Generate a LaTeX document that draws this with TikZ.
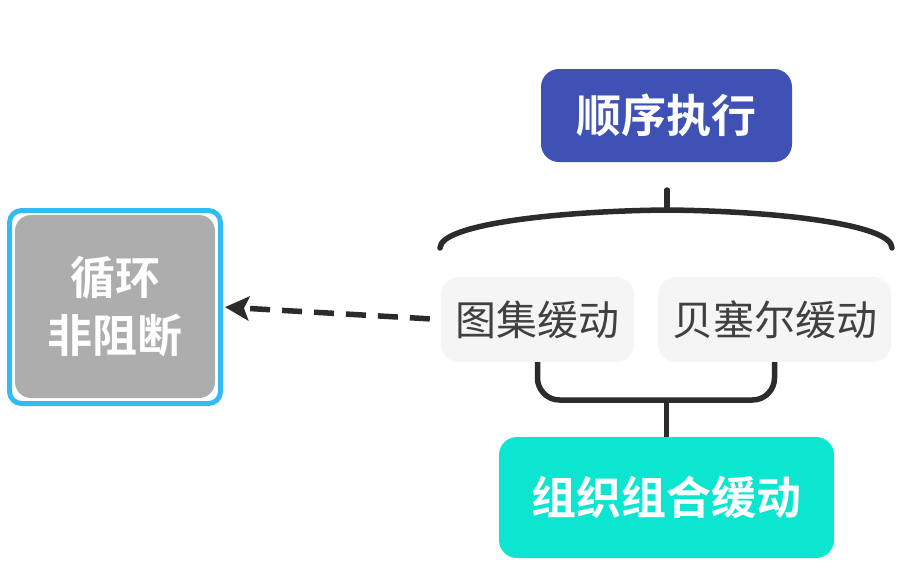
\documentclass[tikz,border=0pt]{standalone}
\usepackage{fontspec}
\newfontfamily\cjk{Noto Sans CJK SC}
\newfontfamily\cjkbold{Noto Sans CJK SC Bold}
\definecolor{seqblue}{HTML}{3F51B5}
\definecolor{combocyan}{HTML}{0CE6D1}
\definecolor{loopgray}{HTML}{ADADAD}
\definecolor{loopedge}{HTML}{33BBF5}
\definecolor{itemgray}{HTML}{F5F5F5}
\definecolor{linedark}{HTML}{2B2B2B}
\usetikzlibrary{arrows.meta}
\tikzset{
  boldbox/.style={rounded corners=18pt,text=white,font=\cjkbold\fontsize{45}{58}\selectfont,inner sep=0pt,align=center},
  itembox/.style={rounded corners=18pt,fill=itemgray,text=linedark!90,font=\cjk\fontsize{41}{46}\selectfont,inner sep=0pt,minimum height=85pt},
  link/.style={draw=linedark,line width=5.5pt}
}
\begin{document}
\begin{tikzpicture}[x=1pt,y=-1pt]
	\useasboundingbox (0,0) rectangle (899,573);
	\node[boldbox,fill=seqblue,minimum width=251pt,minimum height=93pt] (seq) at (666.5,115.5) {顺序执行};
	\node[itembox,minimum width=193pt] (tuji) at (537.5,319.5) {图集缓动};
	\node[itembox,minimum width=233pt] (bezier) at (774.5,319.5) {贝塞尔缓动};
	\node[boldbox,fill=combocyan,minimum width=335pt,minimum height=121pt] (combo) at (666.5,497.5) {组织组合缓动};
	\node[draw=loopedge,line width=5pt,rounded corners=12pt,minimum width=211pt,minimum height=193pt] (loop) at (115,307) {};
	\node[boldbox,fill=loopgray,rounded corners=16pt,minimum width=200pt,minimum height=183pt] (loopin) at (115,306.5) {循环\\非阻断};
	% brace under seq
	\coordinate (top) at (667,190);
	\coordinate (mid) at (667,210);
	\draw[link,line cap=round] (top) -- (mid);
	\draw[link,line cap=round] (440,248) .. controls (440,224) and (560,211) .. (mid) .. controls (774,211) and (892,224) .. (892,248);
	% bracket over combo
	\coordinate (join) at (combo.north |- 0,400);
	\draw[link,rounded corners=22pt] (tuji.south) |- (join) -| (bezier.south);
	\draw[link] (join) -- (combo.north);
	% dashed link to loop
	\draw[link,dash pattern=on 20pt off 12pt,-{Stealth[length=24pt,width=24pt,inset=5pt]},shorten <=11pt,shorten >=2pt] (tuji.west) -- (loop.east);
\end{tikzpicture}
\end{document}
